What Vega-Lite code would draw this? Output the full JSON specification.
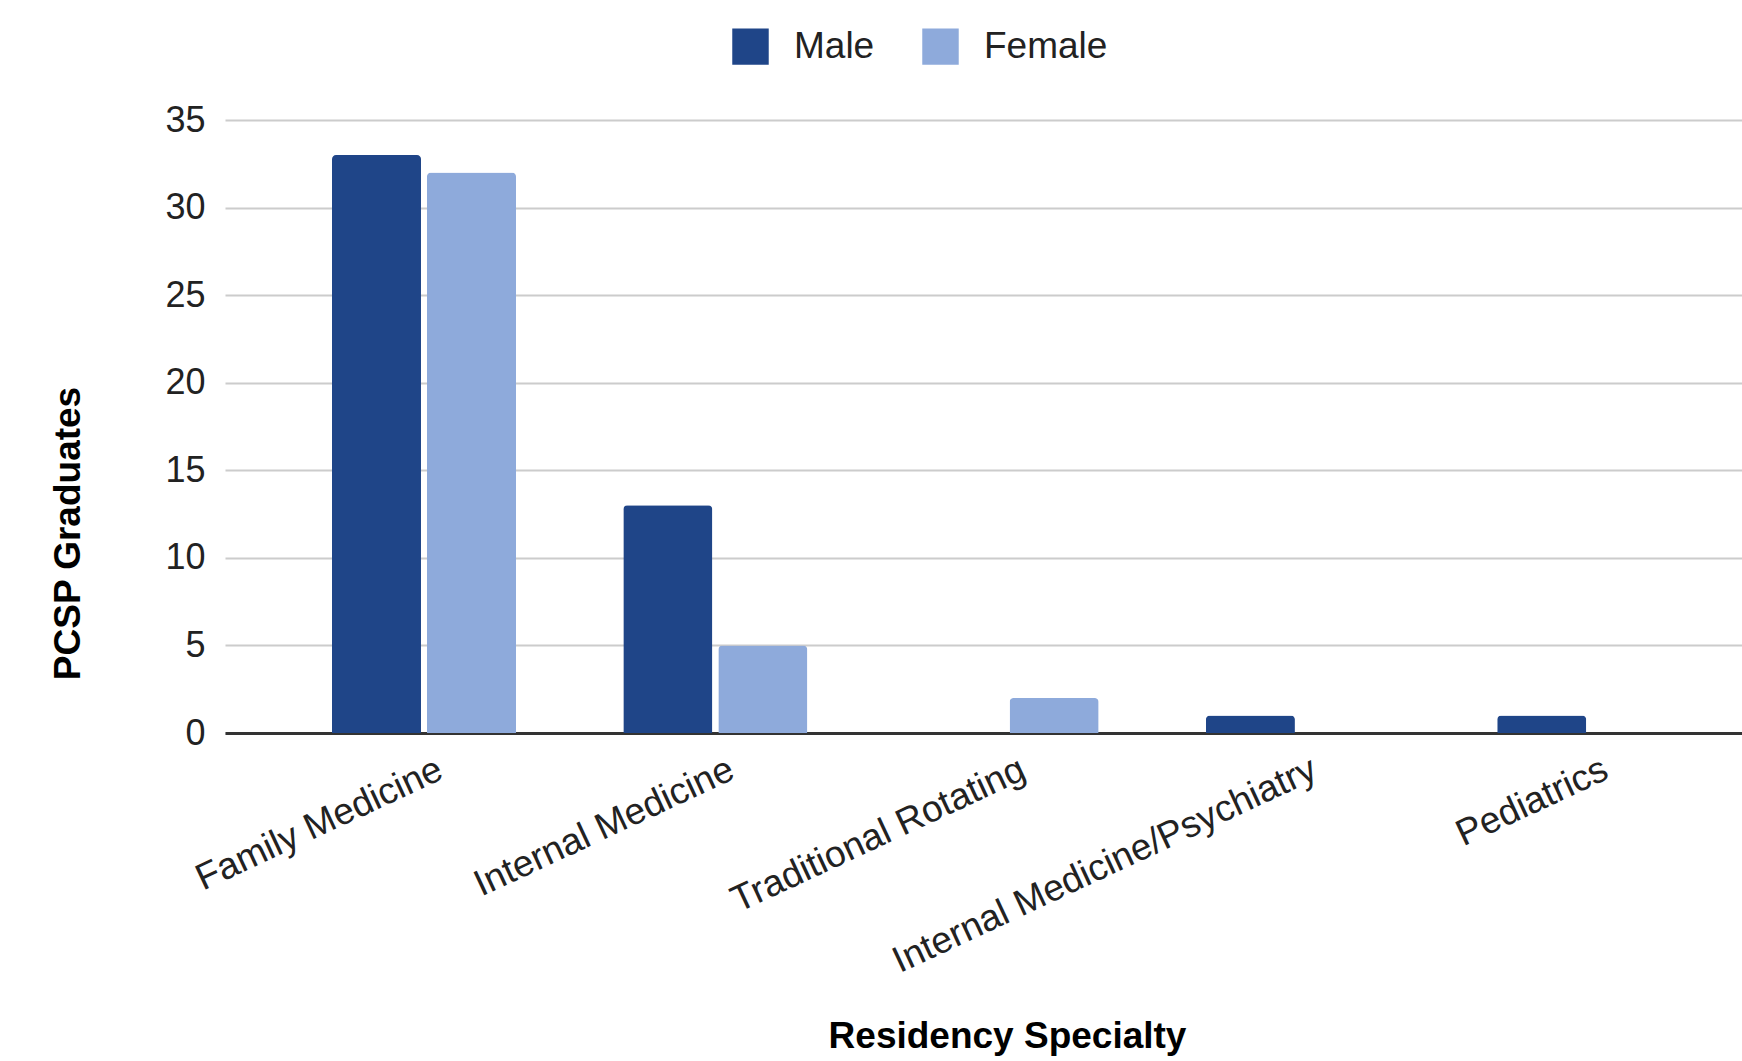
{
  "$schema": "https://vega.github.io/schema/vega-lite/v6.json",
  "width": 1517,
  "height": 613,
  "autosize": {"type": "none"},
  "padding": {"left": 225, "top": 120, "right": 0, "bottom": 328},
  "background": "white",
  "config": {"view": {"stroke": null}, "font": "Liberation Sans"},
  "data": {
    "values": [
      {"specialty": "Family Medicine", "gender": "Male", "count": 33},
      {"specialty": "Family Medicine", "gender": "Female", "count": 32},
      {"specialty": "Internal Medicine", "gender": "Male", "count": 13},
      {"specialty": "Internal Medicine", "gender": "Female", "count": 5},
      {"specialty": "Traditional Rotating", "gender": "Female", "count": 2},
      {"specialty": "Internal Medicine/Psychiatry", "gender": "Male", "count": 1},
      {"specialty": "Pediatrics", "gender": "Male", "count": 1}
    ]
  },
  "mark": {"type": "bar", "cornerRadiusEnd": 4},
  "encoding": {
    "x": {
      "field": "specialty",
      "type": "nominal",
      "sort": null,
      "scale": {"paddingInner": 0.3683, "paddingOuter": 0.288, "align": 0.6377},
      "axis": {
        "title": "Residency Specialty",
        "titleFont": "Liberation Sans",
        "titleFontSize": 37,
        "titleFontWeight": "bold",
        "titleColor": "#000000",
        "titleX": 782,
        "titleY": 314,
        "titleAlign": "center",
        "titleBaseline": "alphabetic",
        "labelAngle": -25,
        "labelFontSize": 37,
        "labelColor": "#222222",
        "labelLimit": 1000,
        "labelOverlap": false,
        "labelPadding": 18,
        "labelOffset": 9,
        "ticks": false,
        "grid": false,
        "domainColor": "#333333",
        "domainWidth": 3
      }
    },
    "xOffset": {
      "field": "gender",
      "type": "nominal",
      "sort": ["Male", "Female"],
      "scale": {"domain": ["Male", "Female"], "paddingInner": 0.063, "paddingOuter": 0}
    },
    "y": {
      "field": "count",
      "type": "quantitative",
      "scale": {"domain": [0, 35], "nice": false},
      "axis": {
        "title": "PCSP Graduates",
        "titleFontSize": 37,
        "titleFontWeight": "bold",
        "titleColor": "#000000",
        "titleX": -157,
        "titleY": 413,
        "titleAngle": -90,
        "titleAlign": "center",
        "titleBaseline": "middle",
        "values": [0, 5, 10, 15, 20, 25, 30, 35],
        "labelFontSize": 36,
        "labelColor": "#222222",
        "labelPadding": 20,
        "ticks": false,
        "domain": false,
        "gridColor": "#cccccc",
        "gridWidth": 2
      }
    },
    "color": {
      "field": "gender",
      "type": "nominal",
      "scale": {"domain": ["Male", "Female"], "range": ["#1f4588", "#8eaadb"]},
      "legend": {
        "orient": "none",
        "legendX": 507,
        "legendY": -92,
        "direction": "horizontal",
        "title": null,
        "symbolType": "square",
        "symbolSize": 1330,
        "symbolStrokeWidth": 0,
        "symbolOpacity": 1,
        "labelFontSize": 37,
        "labelColor": "#222222",
        "labelOffset": 25,
        "columnPadding": 47,
        "padding": 0
      }
    }
  }
}
